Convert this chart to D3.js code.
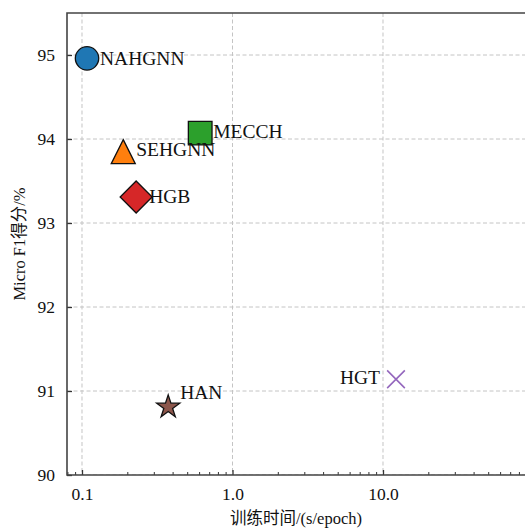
<!DOCTYPE html>
<html>
<head>
<meta charset="utf-8">
<script src="https://cdn.jsdelivr.net/npm/d3@7"></script>
<style>
  html, body { margin: 0; padding: 0; background: #fff; }
  svg { display: block; }
  text { font-family: "Liberation Serif", "Times New Roman", "Noto Sans CJK SC", serif; fill: #111; }
</style>
</head>
<body>
<svg id="chart" width="525" height="529"></svg>
<script>
// Models and their measurements
const models = ["NAHGNN", "SEHGNN", "HGB", "MECCH", "HAN", "HGT"];
const trainTime = [0.108, 0.188, 0.229, 0.61, 0.374, 12.2];     // s/epoch
const microF1 = [94.96, 93.85, 93.31, 94.07, 90.81, 91.14];      // %

const xTickValues = [0.1, 1.0, 10.0];
const xTickLabels = ["0.1", "1.0", "10.0"];
const yTickValues = [90, 91, 92, 93, 94, 95];
const yTickLabels = ["90", "91", "92", "93", "94", "95"];

// Marker styling per model
const markerKind = ["circle", "triangle", "diamond", "square", "star", "x"];
const markerColor = ["#1f77b4", "#ff7f0e", "#d62728", "#2ca02c", "#8c564b", "#9467bd"];
// Label placement relative to the marker: [dx, dy, anchor]
const labelPlacement = [[13, 0, "start"], [13, -2, "start"], [13, 0, "start"],
                        [13, -1.5, "start"], [12, -14, "start"], [-16, -2, "end"]];

const svg = d3.select("#chart");
const plot = { left: 67, top: 13, bottom: 475, right: 533.5 };

const x = d3.scaleLog().domain([0.0795, 100]).range([plot.left, plot.right]);
const y = d3.scaleLinear().domain([90, 95.5]).range([plot.bottom, plot.top]);

const clip = svg.append("defs").append("clipPath").attr("id", "plotclip")
  .append("rect").attr("x", plot.left).attr("y", plot.top)
  .attr("width", plot.right - plot.left).attr("height", plot.bottom - plot.top);

// Grid
const grid = svg.append("g").attr("clip-path", "url(#plotclip)");
grid.selectAll("line.gx").data(xTickValues).join("line")
  .attr("x1", d => x(d)).attr("x2", d => x(d))
  .attr("y1", plot.top).attr("y2", plot.bottom)
  .attr("stroke", "#c4c4c4").attr("stroke-width", 1).attr("stroke-dasharray", "4,2.5");
grid.selectAll("line.gy").data(yTickValues).join("line")
  .attr("y1", d => y(d)).attr("y2", d => y(d))
  .attr("x1", plot.left).attr("x2", plot.right)
  .attr("stroke", "#c4c4c4").attr("stroke-width", 1).attr("stroke-dasharray", "4,2.5");

// Minor ticks on the log axis (2..9 of each decade)
const minor = [];
for (let e = -2; e <= 1; e++) {
  for (let m = 2; m <= 9; m++) {
    const v = m * Math.pow(10, e);
    if (v >= x.domain()[0] && v <= x.domain()[1]) minor.push(v);
  }
}

// Bottom axis: ticks point inward
const xAxis = d3.axisBottom(x).tickValues(xTickValues)
  .tickFormat((d, i) => xTickLabels[i]).tickSizeInner(-5).tickSizeOuter(0).tickPadding(13);
const gx = svg.append("g").attr("transform", `translate(0,${plot.bottom})`).call(xAxis);
gx.select(".domain").remove();
gx.selectAll(".tick line").attr("stroke", "#333").attr("stroke-width", 1.3);
gx.selectAll(".tick text").attr("font-size", "17.5px").attr("fill", "#111")
  .style("font-family", '"Liberation Serif", serif');

const gxm = d3.axisBottom(x).tickValues(minor).tickFormat("").tickSizeInner(-3).tickSizeOuter(0);
const gm = svg.append("g").attr("transform", `translate(0,${plot.bottom})`).call(gxm);
gm.select(".domain").remove();
gm.selectAll(".tick line").attr("stroke", "#333").attr("stroke-width", 1);

// Left axis: ticks point inward
const yAxis = d3.axisLeft(y).tickValues(yTickValues)
  .tickFormat((d, i) => yTickLabels[i]).tickSizeInner(-5).tickSizeOuter(0).tickPadding(12);
const gy = svg.append("g").attr("transform", `translate(${plot.left},0)`).call(yAxis);
gy.select(".domain").remove();
gy.selectAll(".tick line").attr("stroke", "#333").attr("stroke-width", 1.3);
gy.selectAll(".tick text").attr("font-size", "17.5px").attr("fill", "#111")
  .style("font-family", '"Liberation Serif", serif');

// Spines: left, top, bottom
const spine = svg.append("g").attr("stroke", "#444").attr("stroke-width", 1.6).attr("fill", "none");
spine.append("path")
  .attr("d", `M${plot.right},${plot.top}H${plot.left}V${plot.bottom}H${plot.right}`);

// Custom marker shapes
const triangleUp = {
  draw(ctx, size) {
    const r = Math.sqrt(size) / 2;
    ctx.moveTo(0, -r); ctx.lineTo(r, r); ctx.lineTo(-r, r); ctx.closePath();
  }
};
const diamond = {
  draw(ctx, size) {
    const r = Math.sqrt(size) / 2;
    ctx.moveTo(0, -r); ctx.lineTo(r, 0); ctx.lineTo(0, r); ctx.lineTo(-r, 0); ctx.closePath();
  }
};
const shapes = {
  circle: [d3.symbolCircle, 430],
  square: [d3.symbolSquare, 560],
  triangle: [triangleUp, 576],
  diamond: [diamond, 1024],
  star: [d3.symbolStar, 165],
  x: [d3.symbolX, 206]
};

const pts = models.map((m, i) => ({ name: m, t: trainTime[i], f1: microF1[i],
  kind: markerKind[i], color: markerColor[i], place: labelPlacement[i] }));

const marks = svg.append("g");
marks.selectAll("path").data(pts).join("path")
  .attr("transform", d => `translate(${x(d.t)},${y(d.f1)})`)
  .attr("d", d => d3.symbol().type(shapes[d.kind][0]).size(shapes[d.kind][1])())
  .attr("fill", d => d.kind === "x" ? "none" : d.color)
  .attr("stroke", d => d.kind === "x" ? d.color : "#111")
  .attr("stroke-width", d => d.kind === "x" ? 1.6 : 1.3)
  .attr("stroke-linejoin", "miter");

// Labels
marks.selectAll("text").data(pts).join("text")
  .attr("x", d => x(d.t) + d.place[0])
  .attr("y", d => y(d.f1) + d.place[1] + 6.4)
  .attr("text-anchor", d => d.place[2])
  .attr("font-size", "19.5px")
  .text(d => d.name);

// Axis titles
svg.append("text")
  .attr("x", (plot.left + 525) / 2).attr("y", 524)
  .attr("text-anchor", "middle").attr("font-size", "16.5px")
  .text("训练时间/(s/epoch)");
svg.append("text")
  .attr("transform", `translate(25,${(plot.top + plot.bottom) / 2}) rotate(-90)`)
  .attr("text-anchor", "middle").attr("font-size", "16.5px")
  .text("Micro F1得分/%");
</script>
</body>
</html>
